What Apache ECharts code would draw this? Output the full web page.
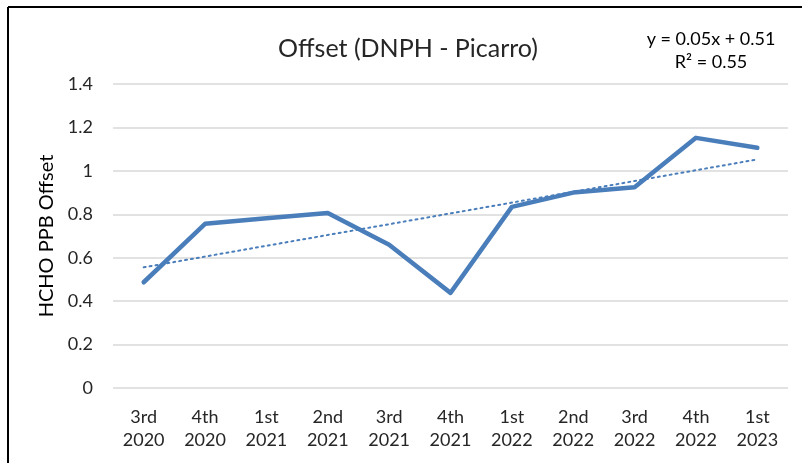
<!DOCTYPE html>
<html>
<head>
<meta charset="utf-8">
<script src="https://cdn.jsdelivr.net/npm/echarts@6/dist/echarts.min.js"></script>
<style>html,body{margin:0;padding:0;background:#fff;}#c{width:802px;height:463px;}</style>
</head>
<body>
<div id="c"></div>
<script>
var categories = ['3rd\n2020','4th\n2020','1st\n2021','2nd\n2021','3rd\n2021','4th\n2021','1st\n2022','2nd\n2022','3rd\n2022','4th\n2022','1st\n2023'];
var offsetValues = [0.487, 0.756, 0.782, 0.806, 0.660, 0.438, 0.834, 0.900, 0.924, 1.152, 1.106];
var yTicks = [0, 0.2, 0.4, 0.6, 0.8, 1, 1.2, 1.4];

// linear regression trendline (Excel-style, x = 1..n)
var n = offsetValues.length, sx = 0, sy = 0, sxy = 0, sxx = 0;
offsetValues.forEach(function (v, i) { var x = i + 1; sx += x; sy += v; sxy += x * v; sxx += x * x; });
var slope = (n * sxy - sx * sy) / (n * sxx - sx * sx);
var intercept = (sy - slope * sx) / n;
var trend = offsetValues.map(function (v, i) { return +(slope * (i + 1) + intercept).toFixed(4); });

var font = 'Lato, "Open Sans", sans-serif';
var chart = echarts.init(document.getElementById('c'));
chart.setOption({
  animation: false,
  backgroundColor: '#fff',
  title: {
    text: 'Offset (DNPH - Picarro)',
    left: 403, top: 31, textAlign: 'center',
    textStyle: { fontFamily: font, fontWeight: 'normal', fontSize: 25, color: '#262626' }
  },
  graphic: [
    { type: 'line', shape: { x1: 8, y1: 7, x2: 802, y2: 7 }, style: { stroke: '#000', lineWidth: 2 } },
    { type: 'line', shape: { x1: 8, y1: 7, x2: 8, y2: 463 }, style: { stroke: '#000', lineWidth: 2 } },
    { type: 'text', x: 711, y: 39, style: { text: 'y = 0.05x + 0.51', font: '18px ' + font, fill: '#000', textAlign: 'center', textVerticalAlign: 'middle' } },
    { type: 'text', x: 711, y: 62, style: { text: 'R² = 0.55', font: '18px ' + font, fill: '#000', textAlign: 'center', textVerticalAlign: 'middle' } }
  ],
  grid: { left: 113, right: 14, top: 84, bottom: 75 },
  xAxis: {
    type: 'category',
    data: categories,
    boundaryGap: true,
    axisLine: { show: false },
    axisTick: { show: false },
    axisLabel: { fontFamily: font, fontSize: 18, color: '#262626', lineHeight: 23, margin: 18, interval: 0 }
  },
  yAxis: {
    type: 'value',
    min: 0, max: 1.4, interval: 0.2,
    name: 'HCHO PPB Offset',
    nameLocation: 'middle',
    nameGap: 56,
    nameTextStyle: { fontFamily: font, fontSize: 20, color: '#000' },
    axisLine: { show: false },
    axisTick: { show: false },
    axisLabel: {
      fontFamily: font, fontSize: 18, color: '#262626', margin: 20,
      formatter: function (v) { var r = Math.round(v * 10) / 10; return yTicks.indexOf(r) >= 0 ? String(r) : ''; }
    },
    splitLine: { lineStyle: { color: '#d9d9d9', width: 1.5 } }
  },
  series: [
    {
      type: 'line', data: offsetValues, symbol: 'none',
      lineStyle: { color: '#4a7ebb', width: 4.5, join: 'round', cap: 'round' }
    },
    {
      type: 'line', data: trend, symbol: 'none',
      lineStyle: { color: '#4a7ebb', width: 2, type: [2, 4], cap: 'round' }
    }
  ]
});
</script>
</body>
</html>
